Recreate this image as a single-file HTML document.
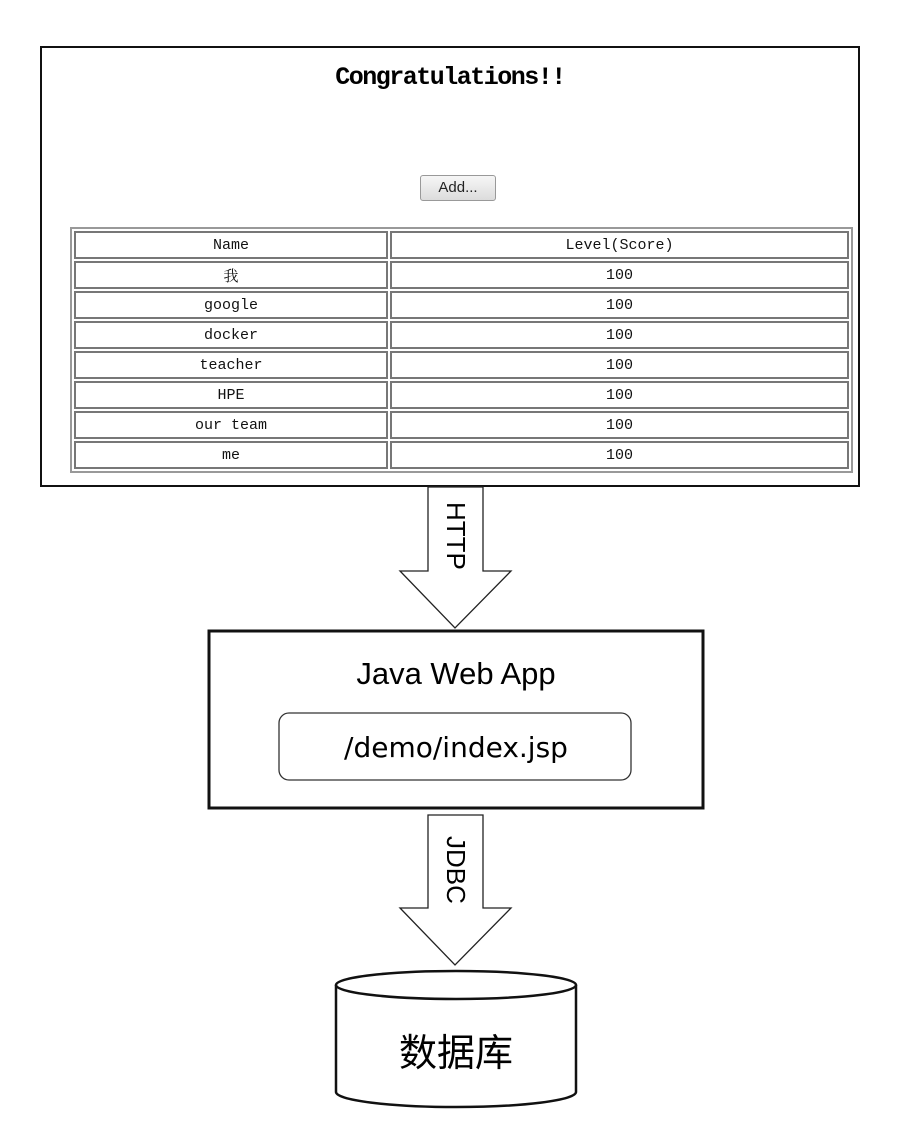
<!DOCTYPE html>
<html><head><meta charset="utf-8"><style>
html,body{margin:0;padding:0;background:#fff;}
body{width:901px;height:1126px;position:relative;overflow:hidden;}
.top{position:absolute;left:40px;top:46px;width:820px;height:441px;border:2px solid #111;box-sizing:border-box;}
.title{position:absolute;left:0;right:0;top:15px;text-align:center;font:bold 25px "Liberation Mono","Noto Serif CJK SC",monospace;letter-spacing:-1.5px;}
.btn{position:absolute;left:378px;top:127px;width:74px;height:24px;border:1px solid #999;border-radius:3px;background:linear-gradient(#f6f6f6,#dcdcdc);font:15px "Liberation Sans",sans-serif;text-align:center;line-height:24px;color:#222;}
table{position:absolute;left:28px;top:179px;width:783px;border:2px solid #999;border-spacing:2px;border-collapse:separate;}
td{border:2px solid #777;height:24px;padding:0;text-align:center;font:15px "Liberation Mono","Noto Serif CJK SC",monospace;color:#111;}
</style></head><body>
<div class="top">
<div class="title">Congratulations!!</div>
<div class="btn">Add...</div>
<table>
<tr><td style="width:310px">Name</td><td>Level(Score)</td></tr>
<tr><td>我</td><td>100</td></tr>
<tr><td>google</td><td>100</td></tr>
<tr><td>docker</td><td>100</td></tr>
<tr><td>teacher</td><td>100</td></tr>
<tr><td>HPE</td><td>100</td></tr>
<tr><td>our team</td><td>100</td></tr>
<tr><td>me</td><td>100</td></tr>
</table>
</div>
<svg width="901" height="1126" style="position:absolute;left:0;top:0">
<polygon points="428,487 483,487 483,571 511,571 455,628 400,571 428,571" fill="#fff" stroke="#222" stroke-width="1.3"/>
<text transform="translate(447,502) rotate(90)" font-family="Liberation Sans,sans-serif" font-size="26">HTTP</text>
<rect x="209" y="631" width="494" height="177" fill="#fff" stroke="#111" stroke-width="3"/>
<text x="456" y="684" font-family="Liberation Sans,sans-serif" font-size="31" text-anchor="middle">Java Web App</text>
<rect x="279" y="713" width="352" height="67" rx="10" fill="#fff" stroke="#333" stroke-width="1.3"/>
<text x="456" y="757" font-family="DejaVu Sans,sans-serif" font-size="28" text-anchor="middle">/demo/index.jsp</text>
<polygon points="428,815 483,815 483,908 511,908 455,965 400,908 428,908" fill="#fff" stroke="#222" stroke-width="1.3"/>
<text transform="translate(447,836) rotate(90)" font-family="Liberation Sans,sans-serif" font-size="26">JDBC</text>
<path d="M336,985 L336,1092 A120,15 0 0 0 576,1092 L576,985" fill="#fff" stroke="#111" stroke-width="2.5"/>
<ellipse cx="456" cy="985" rx="120" ry="14" fill="#fff" stroke="#111" stroke-width="2.5"/>
<text x="456" y="1066" font-family="Noto Sans CJK SC,sans-serif" font-size="38" text-anchor="middle">数据库</text>
</svg>
</body></html>
